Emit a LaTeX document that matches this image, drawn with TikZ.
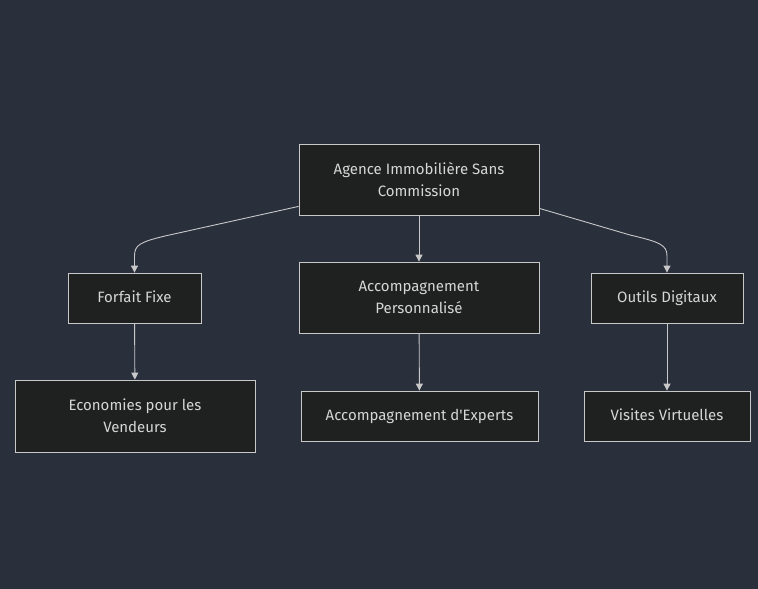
\documentclass[tikz,border=0pt]{standalone}
\usepackage{fontspec}
\setmainfont{Fira Sans}
\usepackage{tikz}
\usetikzlibrary{arrows.meta}
\definecolor{bg}{RGB}{42,47,60}
\definecolor{boxfill}{RGB}{31,32,32}
\definecolor{boxline}{RGB}{200,200,200}
\definecolor{txt}{RGB}{214,214,214}

\begin{document}
\begin{tikzpicture}[x=1pt, y=-1pt,
	box/.style={draw=boxline, fill=boxfill, line width=0.8pt, text=txt, align=center,
	  font=\fontsize{15}{22}\selectfont, inner sep=0pt},
	one line/.style={text height=1.05em, text depth=0.15em},
	edge/.style={draw=boxline, line width=0.9pt, -{Triangle[length=7pt, width=7pt]}}]
	\fill[bg] (0,0) rectangle (758,589);
	\useasboundingbox (0,0) rectangle (758,589);
	% top
	\node[box, minimum width=240pt, minimum height=71pt] (root) at (419,179.5) {Agence Immobilière Sans\\Commission};
	% middle row
	\node[box, one line, minimum width=133pt, minimum height=50pt] (ff) at (134.5,298) {Forfait Fixe};
	\node[box, minimum width=240pt, minimum height=71pt] (ap) at (419,297.5) {Accompagnement\\Personnalisé};
	\node[box, one line, minimum width=152pt, minimum height=50pt] (od) at (667,298) {Outils Digitaux};
	% bottom row
	\node[box, minimum width=240pt, minimum height=72pt] (eco) at (135,416) {Economies pour les\\Vendeurs};
	\node[box, one line, minimum width=237pt, minimum height=50pt] (ae) at (419.5,416) {Accompagnement d\textquotesingle Experts};
	\node[box, one line, minimum width=166pt, minimum height=50pt] (vv) at (667,416) {Visites Virtuelles};
	\draw[edge] ([yshift=9pt]root.south west) -- (165,236) .. controls (140,242) and (134.5,245) .. (134.5,256) -- (ff.north);
	\draw[edge] ([yshift=7pt]root.south east) -- (630,235) .. controls (660,242) and (667,245) .. (667,256) -- (od.north);
	\draw[edge] (root) -- (ap);
	\draw[edge] (ff) -- (eco);
	\draw[edge] (ap) -- (ae);
	\draw[edge] (od) -- (vv);
\end{tikzpicture}
\end{document}
